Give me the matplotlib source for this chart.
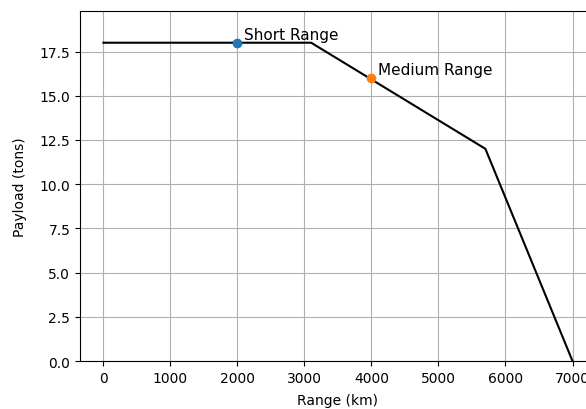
import matplotlib.pyplot as plt

# payload-range envelope
range_km = [0, 3100, 5700, 7000]
payload_t = [18, 18, 12, 0]

# named mission points
point_names = ['Short Range', 'Medium Range']
point_range = [2000, 4000]
point_payload = [18, 16]

fig = plt.figure(figsize=(5.86, 4.10), dpi=100)
ax = fig.add_axes([0.1365, 0.117, 0.8805, 0.854])

ax.plot(range_km, payload_t, color='black')
for name, x, y in zip(point_names, point_range, point_payload):
    ax.plot(x, y, 'o')
    ax.annotate(name, (x, y), xytext=(5, 3), textcoords='offset points', fontsize=11)

ax.set_xlim(-350, 7350)
ax.set_ylim(0, 19.8)
ax.set_xlabel('Range (km)', labelpad=6)
ax.set_ylabel('Payload (tons)', labelpad=9)
ax.grid(True)

fig.savefig('out.png', dpi=100)
